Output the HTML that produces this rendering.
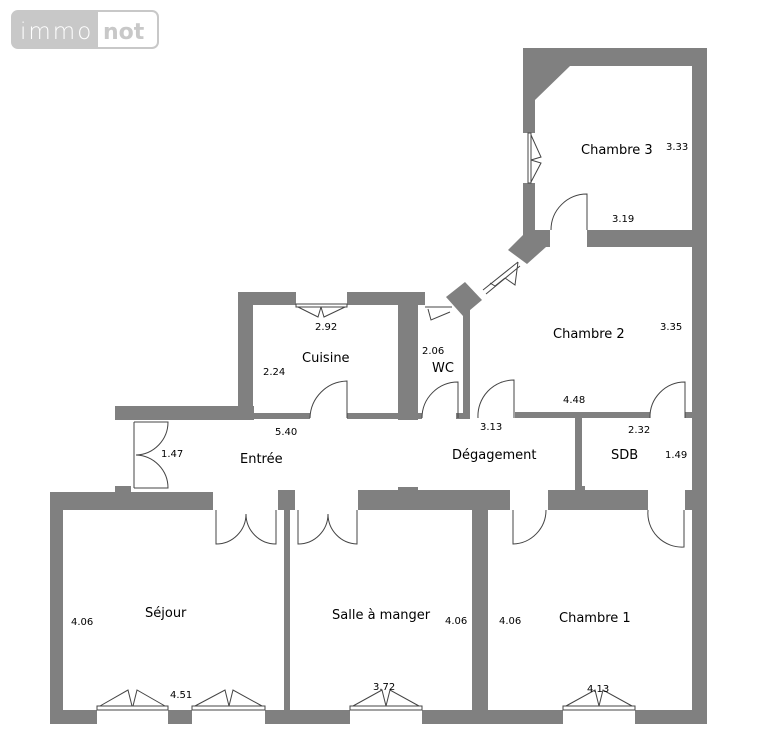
<!DOCTYPE html>
<html><head><meta charset="utf-8"><style>
body{margin:0;background:#fff;}
svg{display:block}
text{font-family:"DejaVu Sans","Liberation Sans",sans-serif;fill:#000}
</style></head><body>
<svg width="759" height="754" viewBox="0 0 759 754" xmlns="http://www.w3.org/2000/svg">
<rect x="12" y="11" width="146" height="37" rx="6" fill="#fff" stroke="#c8c8c8" stroke-width="2"/>
<path d="M18 11 H98 V48 H18 A6 6 0 0 1 12 42 V17 A6 6 0 0 1 18 11Z" fill="#c8c8c8"/>
<text x="20" y="39" font-size="23" style="fill:#fff;letter-spacing:2px;font-weight:300">immo</text>
<text x="103" y="39" font-size="22" font-weight="bold" style="fill:#c8c8c8">not</text>

<g fill="#808080">
<rect x="523" y="48" width="184" height="18"/>
<polygon points="523,48 570,48 570,66 535,100 523,100"/>
<rect x="523" y="48" width="12" height="85"/>
<rect x="523" y="183" width="12" height="62"/>
<rect x="523" y="230" width="27" height="17"/>
<rect x="587" y="230" width="105" height="17"/>
<rect x="692" y="48" width="15" height="676"/>
<polygon points="508,250 527,231 546,247 527,264"/>
<polygon points="446,297 465,282 482,300 463,316"/>
<rect x="238" y="292" width="58" height="13"/>
<rect x="347" y="292" width="78" height="13"/>
<rect x="238" y="292" width="15" height="128"/>
<rect x="398" y="292" width="20" height="128"/>
<rect x="463" y="305" width="7" height="112"/>
<rect x="115" y="406" width="139" height="14"/>
<rect x="253" y="413" width="57" height="6"/>
<rect x="347" y="413" width="51" height="6"/>
<rect x="418" y="413" width="4" height="6"/>
<rect x="456" y="413" width="14" height="6"/>
<rect x="515" y="412" width="135" height="6"/>
<rect x="685" y="412" width="7" height="6"/>
<rect x="575" y="417" width="7" height="73"/>
<rect x="115" y="486" width="16" height="8"/>
<rect x="50" y="492" width="163" height="18"/>
<rect x="278" y="490" width="17" height="20"/>
<rect x="358" y="490" width="152" height="20"/>
<rect x="398" y="487" width="20" height="5"/>
<rect x="548" y="490" width="100" height="20"/>
<rect x="575" y="486" width="10" height="6"/>
<rect x="685" y="490" width="22" height="20"/>
<rect x="50" y="492" width="13" height="232"/>
<rect x="284" y="510" width="6" height="200"/>
<rect x="472" y="510" width="16" height="200"/>
<rect x="50" y="710" width="47" height="14"/>
<rect x="168" y="710" width="24" height="14"/>
<rect x="265" y="710" width="85" height="14"/>
<rect x="422" y="710" width="141" height="14"/>
<rect x="635" y="710" width="72" height="14"/>
</g>

<g fill="none" stroke="#444" stroke-width="1">
<rect x="97" y="706" width="71" height="4"/><rect x="192" y="706" width="73" height="4"/>
<rect x="350" y="706" width="72" height="4"/><rect x="563" y="706" width="72" height="4"/>
<path d="M100 706 L128 690 L132 706 M165 706 L137 690 L133 706"/>
<path d="M195 706 L225 690 L229 706 M262 706 L233 690 L229 706"/>
<path d="M353 706 L382 690 L386 706 M419 706 L390 690 L386 706"/>
<path d="M566 706 L595 690 L599 706 M632 706 L603 690 L599 706"/>
<rect x="296" y="304" width="51" height="3"/>
<path d="M298 307 L318 317 L321 307 M345 307 L324 317 L321 307"/>
<rect x="528" y="133" width="3" height="50"/>
<path d="M531 135 L541 157 L531 160 M531 182 L541 163 L531 160"/>
<path d="M483 290 L518 262 M486 294 L520 266 M505 278 L515 285 L518 262 M505 278 L495 286 L490 283"/>
<path d="M425 307 L452 307 M428 309 L431 320 L450 312"/>
<path d="M310 418 A38 38 0 0 1 347 381 V418"/>
<path d="M422 418 A36 36 0 0 1 458 382 V418"/>
<path d="M478 418 A36 36 0 0 1 514 380 V418"/>
<path d="M650 418 A35 35 0 0 1 685 382 V418"/>
<path d="M551 230 A36 36 0 0 1 587 194 V230"/>
<path d="M134 422 V488 M134 422 H168 A33 33 0 0 1 136 455 A33 33 0 0 1 168 488 H134"/>
<path d="M216 510 V544 A30 30 0 0 0 246 514 A30 30 0 0 0 276 544 V510"/>
<path d="M298 510 V544 A30 30 0 0 0 328 514 A30 30 0 0 0 357 544 V510"/>
<path d="M513 510 V544 A34 34 0 0 0 546 510"/>
<path d="M648 510 A34 34 0 0 0 684 547 V510"/>
</g>

<g font-size="13">
<text x="581" y="154">Chambre 3</text>
<text x="553" y="338">Chambre 2</text>
<text x="302" y="362">Cuisine</text>
<text x="432" y="372">WC</text>
<text x="240" y="463">Entrée</text>
<text x="452" y="459">Dégagement</text>
<text x="611" y="459">SDB</text>
<text x="145" y="617">Séjour</text>
<text x="332" y="619">Salle à manger</text>
<text x="559" y="622">Chambre 1</text>
</g>
<g font-size="10">
<text x="666" y="150">3.33</text>
<text x="612" y="222">3.19</text>
<text x="660" y="330">3.35</text>
<text x="315" y="330">2.92</text>
<text x="263" y="375">2.24</text>
<text x="422" y="354">2.06</text>
<text x="563" y="403">4.48</text>
<text x="275" y="435">5.40</text>
<text x="480" y="430">3.13</text>
<text x="628" y="433">2.32</text>
<text x="161" y="457">1.47</text>
<text x="665" y="458">1.49</text>
<text x="71" y="625">4.06</text>
<text x="445" y="624">4.06</text>
<text x="499" y="624">4.06</text>
<text x="170" y="698">4.51</text>
<text x="373" y="690">3.72</text>
<text x="587" y="692">4.13</text>
</g>
</svg>
</body></html>
